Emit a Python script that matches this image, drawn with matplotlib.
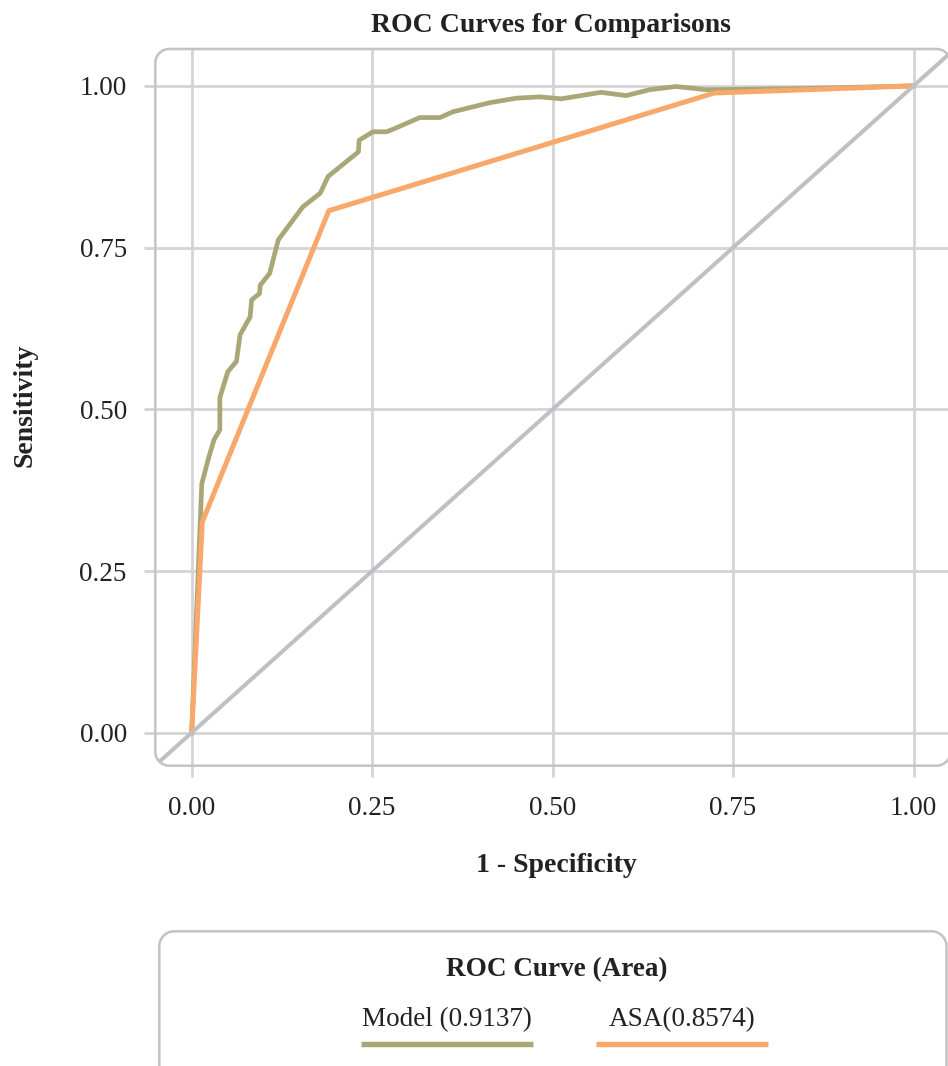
import matplotlib
matplotlib.use("Agg")
import numpy as np
import matplotlib.pyplot as plt
from matplotlib.patches import Polygon
from matplotlib.lines import Line2D

# ---------------- data ----------------
model_fpr = [0.0, 0.012, 0.014, 0.024, 0.031, 0.039, 0.039, 0.050, 0.062, 0.067,
             0.081, 0.083, 0.094, 0.095, 0.108, 0.120, 0.154, 0.178, 0.189, 0.231,
             0.232, 0.251, 0.270, 0.279, 0.316, 0.344, 0.362, 0.413, 0.450, 0.482,
             0.512, 0.567, 0.602, 0.634, 0.671, 0.713, 0.850, 1.0]
model_tpr = [0.0, 0.330, 0.385, 0.427, 0.453, 0.468, 0.518, 0.558, 0.574, 0.615,
             0.643, 0.669, 0.679, 0.692, 0.710, 0.762, 0.813, 0.834, 0.860, 0.898,
             0.916, 0.929, 0.929, 0.933, 0.951, 0.951, 0.960, 0.974, 0.981, 0.983,
             0.980, 0.990, 0.985, 0.994, 0.999, 0.994, 0.996, 1.0]

asa_fpr = [0.0, 0.0147, 0.190, 0.724, 1.0]
asa_tpr = [0.0, 0.326, 0.807, 0.989, 1.0]

ref_line = [-0.06, 1.06]

ticks = [0.0, 0.25, 0.5, 0.75, 1.0]
tick_labels = ["0.00", "0.25", "0.50", "0.75", "1.00"]

series_labels = ["Model (0.9137)", "ASA(0.8574)"]
legend_title = "ROC Curve (Area)"
title = "ROC Curves for Comparisons"
xlabel = "1 - Specificity"
ylabel = "Sensitivity"

# ---------------- style ----------------
C_MODEL = "#aaa777"
C_ASA = "#f9a86c"
C_DIAG = "#c0c0c4"
C_GRID = "#d4d4d6"
C_BORDER = "#c3c3c7"
C_TEXT = "#222222"
FONT = "Liberation Serif"

W, H = 948, 1066
DPI = 100
fig = plt.figure(figsize=(W / DPI, H / DPI), dpi=DPI)
plt.rcParams['font.family'] = [FONT, 'DejaVu Serif']


def fx(px):
    return px / W


def fy(py):
    return 1 - py / H


def rounded_rect_px(x0, y0, x1, y1, r, n=16):
    """Rounded rectangle outline in pixel coords (y down)."""
    pts = []
    corners = [(x1 - r, y0 + r, -90, 0), (x1 - r, y1 - r, 0, 90),
               (x0 + r, y1 - r, 90, 180), (x0 + r, y0 + r, 180, 270)]
    for cx, cy, a0, a1 in corners:
        t = np.radians(np.linspace(a0, a1, n))
        pts.extend(zip(cx + r * np.cos(t), cy + r * np.sin(t)))
    return np.array(pts)


ax_l, ax_t, ax_r, ax_b = 155.3, 49.0, 950.5, 765.7
ax = fig.add_axes([fx(ax_l), fy(ax_b), fx(ax_r - ax_l), (ax_b - ax_t) / H])
ax.set_xlim(-0.0504, 1.0512)
ax.set_ylim(-0.051, 1.057)
for s in ax.spines.values():
    s.set_visible(False)
ax.set_facecolor("none")

ax.set_xticks(ticks)
ax.set_xticklabels(tick_labels)
ax.set_yticks(ticks)
ax.set_yticklabels(tick_labels)
ax.tick_params(axis="both", direction="out", length=8, width=2, color=C_GRID,
               labelsize=19.5, labelcolor=C_TEXT)
ax.tick_params(axis="y", pad=12.5)
ax.tick_params(axis="x", pad=14)
for lab in ax.get_xticklabels() + ax.get_yticklabels():
    lab.set_fontfamily(FONT)
ax.grid(True, color=C_GRID, linewidth=2)
ax.set_axisbelow(True)

wpx = ax_r - ax_l
hpx = ax_b - ax_t
pp = rounded_rect_px(ax_l, ax_t, ax_r, ax_b, 14)
pp_ax = np.column_stack([(pp[:, 0] - ax_l) / wpx, (ax_b - pp[:, 1]) / hpx])
panel = Polygon(pp_ax, closed=True, transform=ax.transAxes, fill=False,
                ec=C_BORDER, lw=1.8, clip_on=False, zorder=5)
ax.add_patch(panel)

l1, = ax.plot(model_fpr, model_tpr, color=C_MODEL, lw=3.4, solid_joinstyle="round", zorder=2)
l2, = ax.plot(asa_fpr, asa_tpr, color=C_ASA, lw=3.6, solid_joinstyle="round", zorder=3)
l3, = ax.plot(ref_line, ref_line, color=C_DIAG, lw=2.9, zorder=4)
for ln in (l1, l2, l3):
    ln.set_clip_path(panel)

# titles / labels
fig.text(fx(551), fy(31.5), title, ha="center", va="baseline", fontsize=20,
         fontweight="bold", color=C_TEXT, family=FONT)
fig.text(fx(556), fy(872), xlabel, ha="center", va="baseline", fontsize=20,
         fontweight="bold", color=C_TEXT, family=FONT)
fig.text(fx(25), fy(405), ylabel, ha="center", va="center", rotation=90, fontsize=20,
         fontweight="bold", color=C_TEXT, family=FONT)

# legend box
lg_l, lg_t, lg_r, lg_b = 159.3, 931.3, 946.5, 1085.0
lp = rounded_rect_px(lg_l, lg_t, lg_r, lg_b, 15)
legbox = Polygon(np.column_stack([fx(lp[:, 0]), fy(lp[:, 1])]), closed=True,
                 transform=fig.transFigure, fill=False, ec=C_BORDER, lw=1.8)
fig.add_artist(legbox)
fig.text(fx(557), fy(976), legend_title, ha="center", va="baseline", fontsize=19.5,
         fontweight="bold", color=C_TEXT, family=FONT)

key_spans = [(361, 533), (596, 768)]
key_colors = [C_MODEL, C_ASA]
for (a, b), lab, col in zip(key_spans, series_labels, key_colors):
    fig.text(fx((a + b) / 2), fy(1026.3), lab, ha="center", va="baseline", fontsize=19.5,
             color=C_TEXT, family=FONT)
    fig.add_artist(Line2D([fx(a), fx(b)], [fy(1043.5), fy(1043.5)], color=col, lw=3.9,
                          solid_capstyle="butt", transform=fig.transFigure))

fig.savefig("out.png", dpi=DPI, facecolor="white")
